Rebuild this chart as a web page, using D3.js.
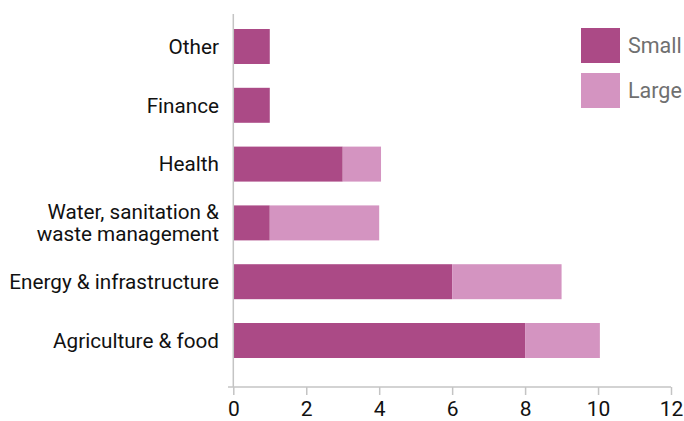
<!DOCTYPE html>
<html>
<head>
<meta charset="utf-8">
<script src="https://cdn.jsdelivr.net/npm/d3@7"></script>
<style>
  body { margin: 0; background: #fff; }
  text { font-family: Roboto, "Noto Sans", sans-serif; }
</style>
</head>
<body>
<svg id="chart" width="684" height="421"></svg>
<script>
// data
var categories = ["Other", "Finance", "Health", "Water, sanitation &\nwaste management", "Energy & infrastructure", "Agriculture & food"];
var small = [1, 1, 3, 1, 6, 8];
var large = [0, 0, 1.05, 3, 3, 2.05];
var seriesNames = ["Small", "Large"];
var colors = ["#ab4a86", "#d494c1"];
var xTicks = [0, 2, 4, 6, 8, 10, 12];

function drawChart(svgEl) {
  var svg = d3.select(svgEl);

  var x = d3.scaleLinear().domain([0, 12]).range([233.3, 671]);
  var y = d3.scaleBand().domain(categories).range([29, 358]).paddingInner(0.405).paddingOuter(0);

  var rows = categories.map(function(c, i) { return {cat: c, Small: small[i], Large: large[i]}; });
  var stack = d3.stack().keys(seriesNames)(rows);

  // bars
  svg.append("g").selectAll("g")
    .data(stack)
    .enter().append("g")
      .attr("fill", function(d, i) { return colors[i]; })
    .selectAll("rect")
    .data(function(d) { return d; })
    .enter().append("rect")
      .attr("x", function(d) { return x(d[0]); })
      .attr("y", function(d) { return y(d.data.cat); })
      .attr("width", function(d) { return x(d[1]) - x(d[0]); })
      .attr("height", y.bandwidth());

  // x axis
  var xAxis = svg.append("g")
    .attr("transform", "translate(0,387)")
    .call(d3.axisBottom(x).tickValues(xTicks).tickSize(8).tickSizeOuter(0).tickPadding(6));
  xAxis.select(".domain").remove();
  xAxis.selectAll(".tick line").attr("stroke", "#c4c4c4").attr("stroke-width", 1.5);
  xAxis.selectAll("text").attr("fill", "#111").style("font-size", "21px");
  xAxis.append("line")
    .attr("x1", 228).attr("x2", x(12)).attr("y1", 0).attr("y2", 0)
    .attr("stroke", "#c4c4c4").attr("stroke-width", 1.5);

  // y axis line
  svg.append("line")
    .attr("x1", x(0)).attr("x2", x(0)).attr("y1", 14).attr("y2", 387)
    .attr("stroke", "#c4c4c4").attr("stroke-width", 1.5);

  // category labels
  var labels = svg.append("g").selectAll("text")
    .data(categories)
    .enter().append("text")
      .attr("x", 219)
      .attr("text-anchor", "end")
      .attr("fill", "#111")
      .style("font-size", "20.7px")
      .attr("transform", function(d) {
        var lines = d.split("\n").length;
        return "translate(0," + (y(d) + y.bandwidth() / 2 - (lines - 1) * 11) + ")";
      });
  labels.selectAll("tspan")
    .data(function(d) { return d.split("\n"); })
    .enter().append("tspan")
      .attr("x", 219)
      .attr("dy", function(d, i) { return i === 0 ? "0.35em" : "1.08em"; })
      .text(function(d) { return d; });

  // legend
  var legend = svg.append("g").selectAll("g")
    .data(seriesNames)
    .enter().append("g")
      .attr("transform", function(d, i) { return "translate(581," + (28 + i * 45) + ")"; });
  legend.append("rect")
    .attr("width", 39).attr("height", 35)
    .attr("fill", function(d, i) { return colors[i]; });
  legend.append("text")
    .attr("x", 47).attr("y", 17.5).attr("dy", "0.35em")
    .attr("fill", "#707070")
    .style("font-size", "21.5px")
    .text(function(d) { return d; });
}

drawChart(document.querySelector("#chart"));
</script>
</body>
</html>
